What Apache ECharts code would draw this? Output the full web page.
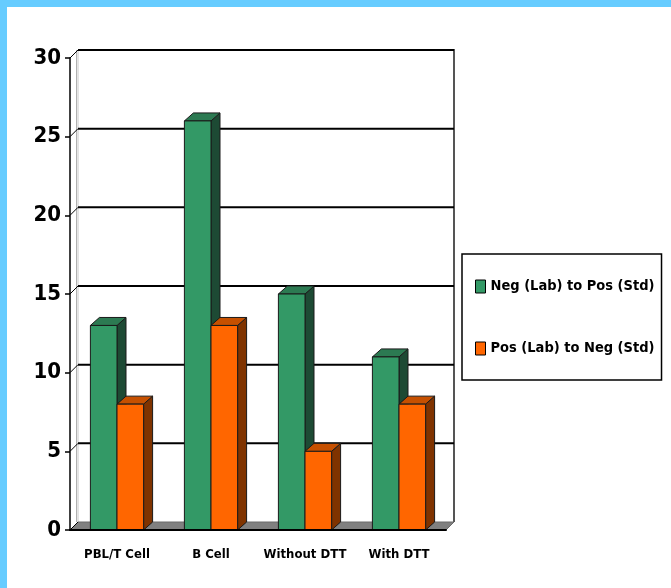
<!DOCTYPE html>
<html>
<head>
<meta charset="utf-8">
<script src="https://cdn.jsdelivr.net/npm/echarts@6/dist/echarts.min.js"></script>
<style>
  html, body { margin: 0; padding: 0; background: #ffffff; }
  #chart { width: 671px; height: 588px; }
</style>
</head>
<body>
<div id="chart"></div>
<script>
// Categories and series values
const categories = ['PBL/T Cell', 'B Cell', 'Without DTT', 'With DTT'];
const negToPos = [13, 26, 15, 11];
const posToNeg = [8, 13, 5, 8];
const yTicks = [0, 5, 10, 15, 20, 25, 30];
const seriesNames = ['Neg (Lab) to Pos (Std)', 'Pos (Lab) to Neg (Std)'];

const FONT = "'DejaVu Sans Condensed', 'Liberation Sans', sans-serif";
const WALL = 8;                // depth offset of the back wall
const BAR_DX = 9, BAR_DY = 8;  // depth offset of each column

const palette = [
  { front: '#339966', side: '#1d4a34', top: '#2c7a52' },
  { front: '#ff6600', side: '#7f3300', top: '#c65000' }
];

// Back wall, left wall, floor and gridlines
function renderWall(params, api) {
  const cs = params.coordSys;
  const x0 = cs.x, x1 = cs.x + cs.width;
  const v = api.value(0);
  const y = api.coord([0, v])[1];
  const children = [];
  if (params.dataIndex === 0) {
    const yTop = api.coord([0, yTicks[yTicks.length - 1]])[1];
    const yBase = api.coord([0, 0])[1];
    children.push({
      type: 'rect',
      shape: { x: x0 + WALL, y: yTop - WALL, width: x1 - x0, height: yBase - yTop },
      style: { fill: '#ffffff' }
    });
    children.push({
      type: 'line',
      shape: { x1: x0 + WALL - 1.5, y1: yTop - WALL, x2: x0 + WALL - 1.5, y2: yBase - WALL },
      style: { stroke: '#b0b0b0', lineWidth: 1 }
    });
    children.push({
      type: 'line',
      shape: { x1: x0 + WALL, y1: yTop - WALL, x2: x0 + WALL, y2: yBase - WALL },
      style: { stroke: '#c8c8c8', lineWidth: 1 }
    });
    children.push({
      type: 'line',
      shape: { x1: x1 + WALL, y1: yTop - WALL - 1, x2: x1 + WALL, y2: yBase - WALL },
      style: { stroke: '#555555', lineWidth: 2 }
    });
    // floor
    children.push({
      type: 'polygon',
      shape: { points: [[x0, yBase], [x1, yBase], [x1 + WALL, yBase - WALL], [x0 + WALL, yBase - WALL]] },
      style: { fill: '#808080', stroke: '#6a6a6a', lineWidth: 1 }
    });
  }
  children.push({
    type: 'line',
    shape: { x1: x0, y1: y, x2: x0 + WALL, y2: y - WALL },
    style: { stroke: '#000000', lineWidth: 1 }
  });
  if (v !== 0) {
    children.push({
      type: 'line',
      shape: { x1: x0 + WALL, y1: y - WALL, x2: x1 + WALL, y2: y - WALL },
      style: { stroke: '#000000', lineWidth: 2 }
    });
  }
  return { type: 'group', children: children };
}

// Column drawn as front, side and top faces
function makeBarRenderer(seriesIdx) {
  return function (params, api) {
    const i = api.value(0);
    const v = api.value(1);
    const base = api.coord([i, 0]);
    const topPt = api.coord([i, v]);
    const cw = api.size([1, 0])[0];
    const bw = cw * 0.283;
    const xl = seriesIdx === 0 ? base[0] - bw : base[0];
    const xr = xl + bw;
    const y0 = base[1], y1 = topPt[1];
    const c = palette[seriesIdx];
    const edge = { stroke: '#1a1a1a', lineWidth: 1 };
    return {
      type: 'group',
      children: [
        { type: 'polygon',
          shape: { points: [[xr, y1], [xr + BAR_DX, y1 - BAR_DY], [xr + BAR_DX, y0 - BAR_DY], [xr, y0]] },
          style: Object.assign({ fill: c.side }, edge) },
        { type: 'polygon',
          shape: { points: [[xl, y1], [xl + BAR_DX, y1 - BAR_DY], [xr + BAR_DX, y1 - BAR_DY], [xr, y1]] },
          style: Object.assign({ fill: c.top }, edge) },
        { type: 'rect',
          shape: { x: xl, y: y1, width: bw, height: y0 - y1 },
          style: Object.assign({ fill: c.front }, edge) }
      ]
    };
  };
}

const chart = echarts.init(document.getElementById('chart'), null, { renderer: 'canvas' });

chart.setOption({
  backgroundColor: '#ffffff',
  animation: false,
  graphic: [
    { type: 'rect', left: 0, top: 0, shape: { width: 671, height: 7 }, style: { fill: '#66ccff' }, z: 100 },
    { type: 'rect', left: 0, top: 0, shape: { width: 7, height: 588 }, style: { fill: '#66ccff' }, z: 100 }
  ],
  grid: { left: 70, right: 225, top: 58, bottom: 58, containLabel: false },
  legend: {
    orient: 'vertical',
    left: 462,
    top: 254,
    padding: [25, 7, 24, 13],
    itemGap: 47,
    itemWidth: 10,
    itemHeight: 13,
    borderColor: '#000000',
    borderWidth: 1.5,
    icon: 'rect',
    itemStyle: { borderColor: '#000000', borderWidth: 1 },
    textStyle: { fontFamily: FONT, fontWeight: 'bold', fontSize: 14.5, color: '#000000' },
    data: seriesNames
  },
  xAxis: {
    type: 'category',
    data: categories,
    z: 5,
    axisLine: { lineStyle: { color: '#000000', width: 2 } },
    axisTick: { length: 7, lineStyle: { color: '#333333', width: 1 } },
    axisLabel: { interval: 0, margin: 18, fontFamily: FONT, fontWeight: 'bold', fontSize: 13, color: '#000000' },
    splitLine: { show: false }
  },
  yAxis: {
    type: 'value',
    min: 0,
    max: 30,
    interval: 5,
    z: 5,
    axisLine: { show: true, lineStyle: { color: '#000000', width: 1.5 } },
    axisTick: { show: true, length: 5, lineStyle: { color: '#000000', width: 1.5 } },
    axisLabel: { margin: 9, fontFamily: FONT, fontWeight: 'bold', fontSize: 22, color: '#000000' },
    splitLine: { show: false }
  },
  series: [
    {
      type: 'custom',
      name: 'wall',
      z: 1,
      silent: true,
      renderItem: renderWall,
      data: yTicks.map(v => [v]),
      encode: { y: 0 }
    },
    {
      type: 'custom',
      name: seriesNames[0],
      z: 2,
      itemStyle: { color: palette[0].front },
      renderItem: makeBarRenderer(0),
      data: negToPos.map((v, i) => [i, v]),
      encode: { x: 0, y: 1 }
    },
    {
      type: 'custom',
      name: seriesNames[1],
      z: 3,
      itemStyle: { color: palette[1].front },
      renderItem: makeBarRenderer(1),
      data: posToNeg.map((v, i) => [i, v]),
      encode: { x: 0, y: 1 }
    }
  ]
});
</script>
</body>
</html>
